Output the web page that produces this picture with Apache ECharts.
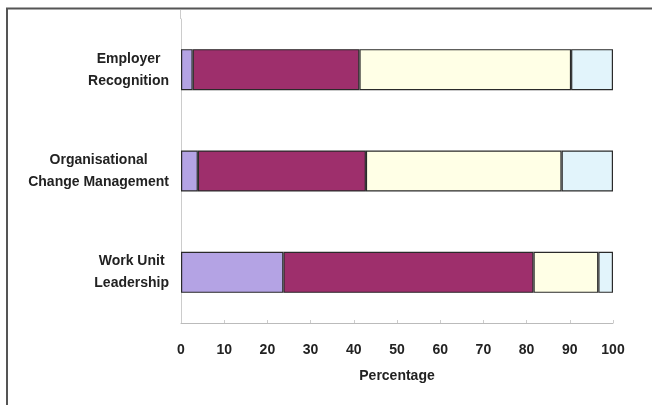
<!DOCTYPE html>
<html>
<head>
<meta charset="utf-8">
<script src="https://cdn.jsdelivr.net/npm/echarts@6/dist/echarts.min.js"></script>
<style>
  html, body { margin: 0; padding: 0; background: #fff; }
  #chart { width: 652px; height: 405px; }
</style>
</head>
<body>
<div id="chart"></div>
<script>
// categories, bottom to top
const categories = ['Work Unit\nLeadership', 'Organisational\nChange Management', 'Employer\nRecognition'];
// percentages per segment
const seg1 = [23.7, 3.9, 2.7];
const seg2 = [57.9, 38.9, 38.6];
const seg3 = [15.0, 45.3, 49.0];
const seg4 = [3.4, 11.9, 9.7];
const xTicks = [0, 10, 20, 30, 40, 50, 60, 70, 80, 90, 100];

const colors = ['#b4a3e4', '#9e2f6c', '#ffffe6', '#e2f4fb'];

const chart = echarts.init(document.getElementById('chart'));

const series = [seg1, seg2, seg3, seg4].map((d, i) => ({
  type: 'bar',
  stack: 'total',
  data: d,
  barWidth: 41,
  itemStyle: { color: colors[i], borderColor: '#2a2a2a', borderWidth: 1.2 },
  silent: true
}));

const labelFont = { fontFamily: 'Liberation Sans', fontWeight: 'bold', fontSize: 14, color: '#222' };

const option = {
  animation: false,
  grid: { left: 181, right: 39, top: 19, bottom: 82 },
  xAxis: {
    type: 'value',
    min: xTicks[0],
    max: xTicks[xTicks.length - 1],
    interval: 10,
    name: 'Percentage',
    nameLocation: 'middle',
    nameGap: 46,
    nameTextStyle: labelFont,
    axisLine: { show: true, lineStyle: { color: '#bbb', width: 1 } },
    axisTick: { show: true, inside: true, length: 3, lineStyle: { color: '#ccc' } },
    axisLabel: Object.assign({ margin: 20 }, labelFont),
    splitLine: { show: false }
  },
  yAxis: {
    type: 'category',
    data: categories,
    axisLine: { show: true, lineStyle: { color: '#ccc', width: 1 } },
    axisTick: { show: false },
    axisLabel: {
      margin: 12,
      align: 'right',
      formatter: v => v.split('\n').map(s => '{c|' + s + '}').join('\n'),
      rich: { c: Object.assign({ align: 'center', lineHeight: 22 }, labelFont) }
    }
  },
  series: series,
  graphic: [
    {
      type: 'polyline',
      shape: { points: [[7, 405], [7, 8.5], [652, 8.5]] },
      style: { stroke: '#555', lineWidth: 2, fill: null },
      silent: true
    },
    {
      type: 'line',
      shape: { x1: 180.5, y1: 10, x2: 180.5, y2: 19 },
      style: { stroke: '#ccc', lineWidth: 1 },
      silent: true
    }
  ]
};

chart.setOption(option);
</script>
</body>
</html>
